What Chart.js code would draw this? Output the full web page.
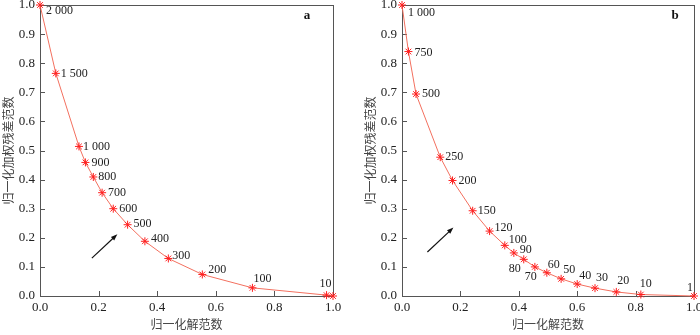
<!DOCTYPE html>
<html>
<head>
<meta charset="utf-8">
<script src="https://cdn.jsdelivr.net/npm/chart.js@4/dist/chart.umd.min.js"></script>
<style>
  body { margin: 0; background: #fff; }
  canvas { position: absolute; top: 0; }
</style>
</head>
<body>
<canvas id="chartA" width="350" height="335" style="left:0"></canvas>
<canvas id="chartB" width="350" height="335" style="left:350px"></canvas>
<script>
// panel a: regularisation parameter sweep
const xA = [0, 0.054, 0.133, 0.155, 0.182, 0.212, 0.250, 0.299, 0.358, 0.438, 0.554, 0.725, 0.978, 1.0];
const yA = [1.0, 0.765, 0.514, 0.459, 0.409, 0.355, 0.300, 0.245, 0.188, 0.129, 0.074, 0.028, 0.003, 0.0];
const labelsA = ["2 000", "1 500", "1 000", "900", "800", "700", "600", "500", "400", "300", "200", "100", "10", ""];

// panel b
const xB = [0, 0.022, 0.048, 0.131, 0.173, 0.242, 0.300, 0.352, 0.383, 0.417, 0.455, 0.496, 0.545, 0.600, 0.661, 0.734, 0.818, 1.0];
const yB = [1.0, 0.840, 0.694, 0.477, 0.397, 0.293, 0.223, 0.174, 0.148, 0.126, 0.100, 0.080, 0.059, 0.041, 0.027, 0.014, 0.005, 0.0];
const labelsB = ["1 000", "750", "500", "250", "200", "150", "120", "100", "90", "80", "70", "60", "50", "40", "30", "20", "10", "1"];

const xTicks = [0, 0.2, 0.4, 0.6, 0.8, 1.0];
const yTicks = [0, 0.1, 0.2, 0.3, 0.4, 0.5, 0.6, 0.7, 0.8, 0.9, 1.0];

// label offsets in px from each point (left edge of text, vertical middle)
const offA = [[6,6],[5,0],[4,0],[6,0],[5,0],[6,0],[6,0],[6,-1],[6,-2],[4,-3],[6,-5],[1,-9],[-7,-11],[0,0]];
const offB = [[6,8],[6,1],[6,0],[5,0],[6,0],[5,0],[5,-3],[4,-6],[6,-3],[-15,10],[-10,10],[1,-8],[2,-9],[2,-8],[1,-10],[1,-11],[-1,-11],[-7,-8]];

// arrows in data units
const arrowA = [[0.177, 0.130], [0.264, 0.212]];
const arrowB = [[0.087, 0.151], [0.176, 0.235]];

Chart.defaults.font.family = '"Liberation Serif", "Noto Sans CJK SC", serif';
Chart.defaults.color = '#222';

const decor = {
  id: 'decor',
  beforeDatasetsDraw(chart, args, o) {
    const { ctx, chartArea: a, scales: { x, y } } = chart;
    ctx.save();
    ctx.strokeStyle = '#555';
    ctx.lineWidth = 1;
    ctx.strokeRect(a.left + 0.5, a.top + 0.5, a.right - a.left, a.bottom - a.top);
    ctx.beginPath();
    xTicks.forEach(v => {
      const px = Math.round(x.getPixelForValue(v)) + 0.5;
      ctx.moveTo(px, a.bottom);
      ctx.lineTo(px, a.bottom - 5);
    });
    yTicks.forEach(v => {
      const py = Math.round(y.getPixelForValue(v)) + 0.5;
      ctx.moveTo(a.left, py);
      ctx.lineTo(a.left + 5, py);
    });
    ctx.stroke();
    ctx.restore();
  },
  afterDatasetsDraw(chart, args, o) {
    const { ctx, chartArea: a, scales: { x, y } } = chart;
    ctx.save();
    ctx.font = '12px "Liberation Serif", serif';
    ctx.fillStyle = '#222';
    ctx.textAlign = 'left';
    ctx.textBaseline = 'middle';
    const pts = chart.getDatasetMeta(0).data;
    o.labels.forEach((t, i) => {
      if (!t) return;
      ctx.fillText(t, pts[i].x + o.offsets[i][0], pts[i].y + o.offsets[i][1]);
    });

    // arrow
    const x0 = x.getPixelForValue(o.arrow[0][0]), y0 = y.getPixelForValue(o.arrow[0][1]);
    const x1 = x.getPixelForValue(o.arrow[1][0]), y1 = y.getPixelForValue(o.arrow[1][1]);
    const ang = Math.atan2(y1 - y0, x1 - x0);
    ctx.strokeStyle = '#111';
    ctx.fillStyle = '#111';
    ctx.lineWidth = 1.2;
    ctx.beginPath();
    ctx.moveTo(x0, y0);
    ctx.lineTo(x1 - 4 * Math.cos(ang), y1 - 4 * Math.sin(ang));
    ctx.stroke();
    ctx.beginPath();
    ctx.moveTo(x1, y1);
    ctx.lineTo(x1 - 7 * Math.cos(ang - 0.35), y1 - 7 * Math.sin(ang - 0.35));
    ctx.lineTo(x1 - 7 * Math.cos(ang + 0.35), y1 - 7 * Math.sin(ang + 0.35));
    ctx.closePath();
    ctx.fill();

    // panel letter
    ctx.font = 'bold 13px "Liberation Serif", serif';
    ctx.textAlign = 'center';
    ctx.fillText(o.letter, a.right - o.letterDx, a.top + 11);
    ctx.restore();
  }
};

function noPad(s) {
  s.paddingTop = 0; s.paddingBottom = 0; s.paddingLeft = 0; s.paddingRight = 0;
}

function makeChart(id, xs, ys, labels, offsets, arrow, letter, letterDx, padLeft, padRight) {
  return new Chart(document.getElementById(id), {
    type: 'scatter',
    data: {
      datasets: [{
        data: xs.map((v, i) => ({ x: v, y: ys[i] })),
        showLine: true,
        borderColor: '#f3705f',
        borderWidth: 1,
        pointStyle: 'star',
        pointRadius: 4,
        pointBorderColor: '#ff1f1f',
        pointBackgroundColor: '#ff1f1f',
        pointBorderWidth: 1,
        clip: false
      }]
    },
    options: {
      responsive: false,
      animation: false,
      layout: { padding: { top: 4, right: padRight, left: padLeft, bottom: 0 } },
      plugins: {
        legend: { display: false },
        tooltip: { enabled: false },
        decor: { labels, offsets, arrow, letter, letterDx }
      },
      scales: {
        x: {
          type: 'linear', min: 0, max: 1,
          grid: { display: false, drawTicks: false, tickLength: 0 },
          border: { display: false },
          afterBuildTicks: s => { s.ticks = xTicks.map(v => ({ value: v })); },
          ticks: { padding: 4, font: { size: 13 }, color: '#222', callback: v => v.toFixed(1) },
          title: { display: true, text: '归一化解范数', font: { size: 12 }, color: '#444', padding: { top: 0, bottom: 2 } },
          afterFit: s => { s.height = 39; noPad(s); }
        },
        y: {
          type: 'linear', min: 0, max: 1,
          grid: { display: false, drawTicks: false, tickLength: 0 },
          border: { display: false },
          afterBuildTicks: s => { s.ticks = yTicks.map(v => ({ value: v })); },
          ticks: { padding: 5, font: { size: 13 }, color: '#222', callback: v => v.toFixed(1) },
          title: { display: true, text: '归一化加权残差范数', font: { size: 12 }, color: '#444', padding: { top: 3, bottom: 0 } },
          afterFit: s => { s.width = 40; noPad(s); }
        }
      }
    },
    plugins: [decor]
  });
}

makeChart('chartA', xA, yA, labelsA, offA, arrowA, 'a', 26, 0, 17);
makeChart('chartB', xB, yB, labelsB, offB, arrowB, 'b', 19, 12, 6);
</script>
</body>
</html>
